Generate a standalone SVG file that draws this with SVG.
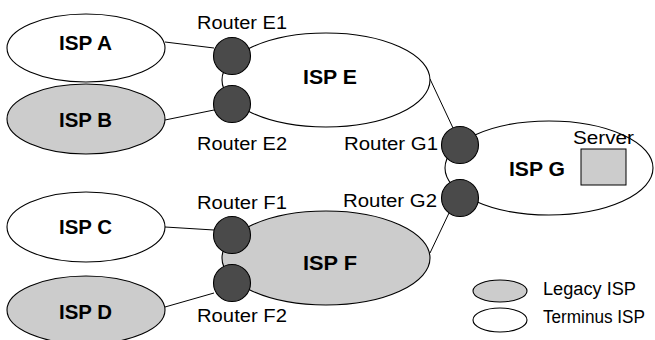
<svg xmlns="http://www.w3.org/2000/svg" width="655" height="340" viewBox="0 0 655 340">
<style>
.isp{stroke:#000;stroke-width:1.1}
.legacy{fill:#cccccc}
.term{fill:#ffffff}
.router{fill:#4a4a4a;stroke:#000;stroke-width:1.1}
.lbl{font-family:"Liberation Sans",Arial,sans-serif;font-weight:bold;font-size:20px;fill:#000}
.rl{font-family:"Liberation Sans",Arial,sans-serif;font-size:18px;fill:#000}
.conn line{stroke:#000;stroke-width:1}
</style>
<rect width="655" height="340" fill="#fff"/>
<g class="conn" id="connectors">
<line x1="165" y1="42" x2="214" y2="48"/>
<line x1="165" y1="120" x2="214" y2="110"/>
<line x1="165" y1="227" x2="214" y2="230"/>
<line x1="165" y1="307" x2="214" y2="293"/>
<line x1="430" y1="79" x2="453" y2="128"/>
<line x1="430" y1="253" x2="449" y2="213"/>
</g>
<g id="ispA"><ellipse class="isp term" cx="86" cy="48" rx="79" ry="34"/><text class="lbl" x="59" y="50" textLength="53" lengthAdjust="spacingAndGlyphs">ISP A</text></g>
<g id="ispB"><ellipse class="isp legacy" cx="86" cy="119" rx="79" ry="35"/><text class="lbl" x="59" y="127" textLength="53" lengthAdjust="spacingAndGlyphs">ISP B</text></g>
<g id="ispC"><ellipse class="isp term" cx="86" cy="227" rx="79" ry="35"/><text class="lbl" x="59" y="234" textLength="53" lengthAdjust="spacingAndGlyphs">ISP C</text></g>
<g id="ispD"><ellipse class="isp legacy" cx="86" cy="310" rx="79" ry="34"/><text class="lbl" x="59" y="319" textLength="53" lengthAdjust="spacingAndGlyphs">ISP D</text></g>
<g id="ispE"><ellipse class="isp term" cx="326" cy="80" rx="104" ry="47"/><text class="lbl" x="303" y="84" textLength="54" lengthAdjust="spacingAndGlyphs">ISP E</text></g>
<g id="ispF"><ellipse class="isp legacy" cx="326" cy="258" rx="104" ry="47"/><text class="lbl" x="303" y="270" textLength="54" lengthAdjust="spacingAndGlyphs">ISP F</text></g>
<g id="ispG"><ellipse class="isp term" cx="549" cy="168" rx="104" ry="47"/><text class="lbl" x="509" y="176" textLength="56" lengthAdjust="spacingAndGlyphs">ISP G</text></g>
<g id="server"><rect x="581" y="149" width="45" height="36" fill="#cccccc" stroke="#000" stroke-width="1"/><text class="rl" x="573" y="144" textLength="61" lengthAdjust="spacingAndGlyphs">Server</text></g>
<g id="routerE1"><circle class="router" cx="232" cy="56" r="18.5"/><text class="rl" x="197" y="29" textLength="90" lengthAdjust="spacingAndGlyphs">Router E1</text></g>
<g id="routerE2"><circle class="router" cx="232" cy="104" r="18.5"/><text class="rl" x="197" y="150" textLength="90" lengthAdjust="spacingAndGlyphs">Router E2</text></g>
<g id="routerF1"><circle class="router" cx="232" cy="235" r="18.5"/><text class="rl" x="197" y="209" textLength="90" lengthAdjust="spacingAndGlyphs">Router F1</text></g>
<g id="routerF2"><circle class="router" cx="232" cy="283" r="18.5"/><text class="rl" x="197" y="322" textLength="90" lengthAdjust="spacingAndGlyphs">Router F2</text></g>
<g id="routerG1"><circle class="router" cx="460" cy="145" r="18.5"/><text class="rl" x="344" y="150" textLength="94" lengthAdjust="spacingAndGlyphs">Router G1</text></g>
<g id="routerG2"><circle class="router" cx="460" cy="198" r="18.5"/><text class="rl" x="343" y="207" textLength="94" lengthAdjust="spacingAndGlyphs">Router G2</text></g>
<g id="legend">
<ellipse class="isp legacy" cx="500" cy="291" rx="27" ry="11"/>
<text class="rl" x="543" y="295" textLength="93" lengthAdjust="spacingAndGlyphs">Legacy ISP</text>
<ellipse class="isp term" cx="500" cy="320" rx="27" ry="12"/>
<text class="rl" x="543" y="323" textLength="102" lengthAdjust="spacingAndGlyphs">Terminus ISP</text>
</g>
</svg>
